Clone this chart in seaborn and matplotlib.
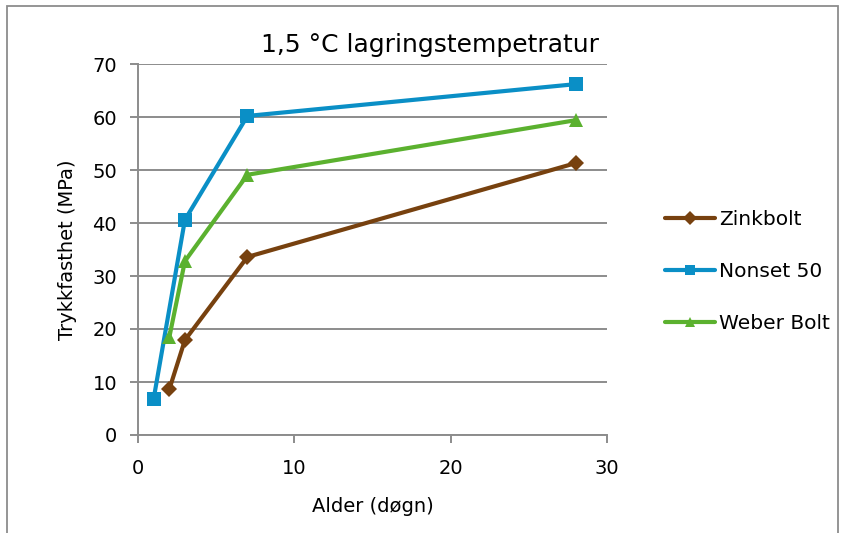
import matplotlib
matplotlib.use("Agg")
import matplotlib.pyplot as plt
import seaborn as sns
import pandas as pd
from matplotlib.patches import Rectangle

# Data
zink_x = [2, 3, 7, 28]
zink_y = [8.6, 17.9, 33.6, 51.3]
nonset_x = [1, 3, 7, 28]
nonset_y = [6.8, 40.6, 60.2, 66.2]
weber_x = [2, 3, 7, 28]
weber_y = [18.4, 32.8, 49.1, 59.4]
series_names = ["Zinkbolt", "Nonset 50", "Weber Bolt"]
y_ticks = [0, 10, 20, 30, 40, 50, 60, 70]
x_ticks = [0, 10, 20, 30]

df = pd.concat([
    pd.DataFrame({"x": zink_x, "y": zink_y, "s": series_names[0]}),
    pd.DataFrame({"x": nonset_x, "y": nonset_y, "s": series_names[1]}),
    pd.DataFrame({"x": weber_x, "y": weber_y, "s": series_names[2]}),
], ignore_index=True)

sns.set_style("white")
plt.rcParams["font.family"] = ["DejaVu Sans"]
plt.rcParams["text.color"] = "black"
plt.rcParams["axes.labelcolor"] = "black"

fig = plt.figure(figsize=(8.45, 5.33), dpi=100)
ax = fig.add_axes([138/845, 98/533, (607-138)/845, (435-64)/533])

colors = {"Zinkbolt": "#77410F", "Nonset 50": "#0A8FC6", "Weber Bolt": "#5BB12F"}
markers = {"Zinkbolt": "D", "Nonset 50": "s", "Weber Bolt": "^"}
msizes = {"Zinkbolt": 8, "Nonset 50": 10.5, "Weber Bolt": 10.5}

for name in series_names:
    sub = df[df["s"] == name]
    sns.lineplot(data=sub, x="x", y="y", ax=ax, color=colors[name], marker=markers[name],
                 markersize=msizes[name], markeredgewidth=0, linewidth=3.0, label=name,
                 estimator=None, sort=False)

ax.set_xlim(0, 30)
ax.set_ylim(0, 70)
ax.set_xticks(x_ticks)
ax.set_yticks(y_ticks)
ax.yaxis.grid(True, color="#8c8c8c", linewidth=1.4)
ax.xaxis.grid(False)
for s in ["top", "right"]:
    ax.spines[s].set_visible(False)
for s in ["left", "bottom"]:
    ax.spines[s].set_color("#8c8c8c")
    ax.spines[s].set_linewidth(1.4)
ax.tick_params(axis="both", which="both", direction="out", length=6, width=1.4,
               color="#8c8c8c", labelsize=14, labelcolor="black", bottom=True, left=True)
ax.tick_params(axis="y", pad=9)
ax.tick_params(axis="x", pad=11)
ax.set_xlabel("Alder (døgn)", fontsize=14, labelpad=14)
ax.set_ylabel("Trykkfasthet (MPa)", fontsize=14, labelpad=11)

leg = ax.legend(loc="center left", bbox_to_anchor=(1.085, 0.44), frameon=False,
                fontsize=14.5, handlelength=2.5, handletextpad=0.2, labelspacing=1.65)
for h in leg.legend_handles:
    h.set_markersize(7)

fig.text(430/845, 1 - 45/533, "1,5 °C lagringstempetratur", fontsize=18,
         ha="center", va="center", color="black")

fig.patches.append(Rectangle((7/845, -0.05), (838-7)/845, 1.05 - 6/533,
                             transform=fig.transFigure, fill=False,
                             edgecolor="#8c8c8c", linewidth=1.3))

fig.savefig("out.png", dpi=100)
